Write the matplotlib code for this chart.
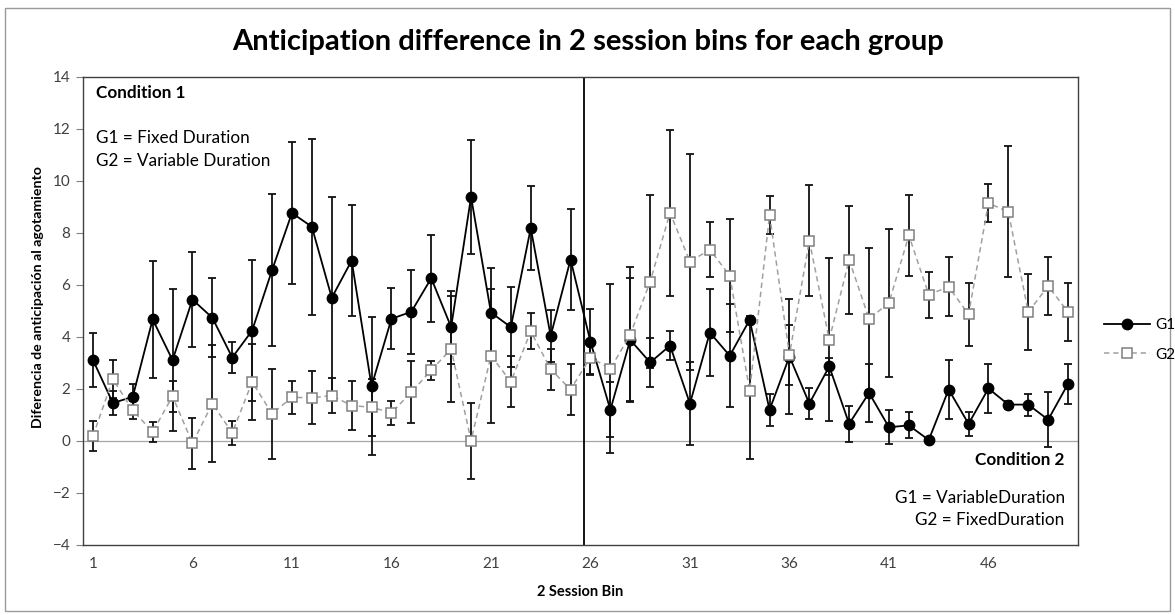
import matplotlib
matplotlib.use("Agg")
import numpy as np
import matplotlib.pyplot as plt
from matplotlib.patches import Rectangle

plt.rcParams["font.family"] = ["Lato", "DejaVu Sans"]

# data
bins = np.arange(1, 51)

g1 = [3.12, 1.46, 1.70, 4.68, 3.11, 5.44, 4.74, 3.21, 4.25, 6.57,
      8.77, 8.24, 5.51, 6.94, 2.11, 4.70, 4.97, 6.26, 4.38, 9.39,
      4.94, 4.38, 8.19, 4.04, 6.98, 3.82, 1.20, 3.89, 3.02, 3.67,
      1.44, 4.17, 3.28, 4.66, 1.20, 3.25, 1.44, 2.87, 0.66, 1.85,
      0.53, 0.60, 0.04, 1.98, 0.66, 2.02, 1.40, 1.40, 0.82, 2.20]
g1_err = [1.05, 0.45, 0.48, 2.25, 2.73, 1.82, 1.52, 0.60, 2.73, 2.93,
          2.73, 3.38, 3.86, 2.15, 2.65, 1.17, 1.62, 1.68, 1.40, 2.20,
          1.73, 1.55, 1.60, 0.99, 1.95, 1.27, 1.06, 2.37, 0.93, 0.55,
          1.60, 1.66, 1.98, 0.15, 0.62, 2.20, 0.58, 0.32, 0.69, 1.10,
          0.65, 0.50, 0.05, 1.13, 0.46, 0.95, 0.15, 0.42, 1.05, 0.77]

g2 = [0.19, 2.38, 1.18, 0.35, 1.72, -0.09, 1.44, 0.31, 2.27, 1.05,
      1.68, 1.66, 1.75, 1.36, 1.30, 1.08, 1.88, 2.72, 3.54, 0.01,
      3.28, 2.28, 4.22, 2.76, 1.98, 3.21, 2.78, 4.09, 6.13, 8.78,
      6.90, 7.36, 6.36, 1.94, 8.69, 3.32, 7.71, 3.90, 6.97, 4.70,
      5.31, 7.91, 5.63, 5.93, 4.87, 9.15, 8.81, 4.96, 5.96, 4.96]
g2_err = [0.58, 0.74, 0.35, 0.40, 0.60, 0.99, 2.25, 0.45, 1.47, 1.73,
          0.63, 1.02, 0.68, 0.94, 1.10, 0.47, 1.20, 0.36, 2.03, 1.47,
          2.58, 0.98, 0.69, 0.78, 0.98, 0.65, 3.26, 2.60, 3.33, 3.20,
          4.15, 1.06, 2.16, 2.64, 0.74, 1.16, 2.13, 3.12, 2.07, 2.72,
          2.85, 1.55, 0.88, 1.14, 1.20, 0.73, 2.52, 1.47, 1.10, 1.10]

x_ticks = [1, 6, 11, 16, 21, 26, 31, 36, 41, 46]
y_ticks = [-4, -2, 0, 2, 4, 6, 8, 10, 12, 14]
split_at = 25.7

W, H = 1175, 615
fig = plt.figure(figsize=(W / 100, H / 100), dpi=100)
ax = fig.add_axes([83 / W, 1 - 545 / H, (1078 - 83) / W, (545 - 77) / H])

# chart border
fig.patches.append(Rectangle((5 / W, 1 - 611 / H), 1165 / W, 603 / H,
                             transform=fig.transFigure, fill=False,
                             edgecolor="#9a9a9a", linewidth=1.0))

ax.axhline(0, color="#a6a6a6", linewidth=0.9, zorder=1)
ax.axvline(split_at, color="black", linewidth=1.3, zorder=2)

ax.errorbar(bins, g1, yerr=g1_err, fmt="none", ecolor="#111111",
            elinewidth=1.3, capsize=3.2, capthick=1.3, zorder=3)
ax.errorbar(bins, g2, yerr=g2_err, fmt="none", ecolor="#111111",
            elinewidth=1.3, capsize=3.2, capthick=1.3, zorder=3)
l1, = ax.plot(bins, g1, color="black", linewidth=1.3, marker="o",
              markersize=7.5, markerfacecolor="black", zorder=4, label="G1")
l2, = ax.plot(bins, g2, color="#a0a0a0", linewidth=1.1, dashes=(3.5, 2.5),
              marker="s", markersize=7, markerfacecolor="white",
              markeredgecolor="#808080", markeredgewidth=1.1, zorder=5,
              label="G2")

ax.set_xlim(0.5, 50.5)
ax.set_ylim(-4, 14)
ax.set_xticks(x_ticks)
ax.set_yticks(y_ticks)
ax.tick_params(axis="x", length=0, pad=9, labelsize=11, labelcolor="#404040")
ax.tick_params(axis="y", length=5, width=0.8, color="#808080", pad=4,
               labelsize=11, labelcolor="#404040")
for s in ax.spines.values():
    s.set_color("#404040")
    s.set_linewidth(1.0)

fs = 12.3
ax.text(1.14, 13.4, "Condition 1", fontsize=fs, fontweight="bold",
        va="center", ha="left")
ax.text(1.14, 11.65, "G1 = Fixed Duration", fontsize=fs, va="center", ha="left")
ax.text(1.14, 10.76, "G2 = Variable Duration", fontsize=fs, va="center", ha="left")
ax.text(49.83, -0.74, "Condition 2", fontsize=fs, fontweight="bold",
        va="center", ha="right")
ax.text(49.83, -2.18, "G1 = VariableDuration", fontsize=fs, va="center", ha="right")
ax.text(49.83, -3.04, "G2 = FixedDuration", fontsize=fs, va="center", ha="right")

fig.text(588 / W, 1 - 42 / H, "Anticipation difference in 2 session bins for each group",
         fontsize=21, fontweight="bold", ha="center", va="center")
fig.text(580 / W, 1 - 592 / H, "2 Session Bin", fontsize=10.5, fontweight="bold",
         ha="center", va="center")
fig.text(38 / W, 1 - 297 / H, "Diferencia de anticipación al agotamiento",
         fontsize=10.2, fontweight="bold", rotation=90, ha="center", va="center")

fig.legend(handles=[l1, l2], loc="center left",
           bbox_to_anchor=(1090 / W, 1 - 340 / H), frameon=False,
           handlelength=3.0, handletextpad=0.4, labelspacing=1.0, fontsize=11)

fig.savefig("out.png", dpi=100)
